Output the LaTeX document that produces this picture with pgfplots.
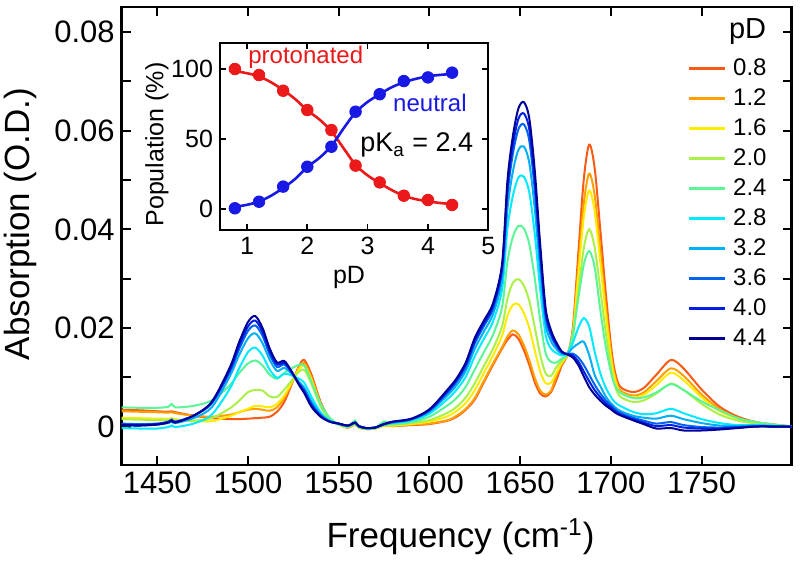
\documentclass[border=0pt]{standalone}
\usepackage{pgfplots}
\pgfplotsset{compat=1.18}
\usepackage{pgfplotstable}
\usepackage{fontspec}
\setmainfont{Liberation Sans}

\definecolor{c08}{RGB}{250,90,20}
\definecolor{c12}{RGB}{255,160,0}
\definecolor{c16}{RGB}{255,235,0}
\definecolor{c20}{RGB}{170,240,70}
\definecolor{c24}{RGB}{90,245,150}
\definecolor{c28}{RGB}{0,235,255}
\definecolor{c32}{RGB}{0,175,245}
\definecolor{c36}{RGB}{0,100,240}
\definecolor{c40}{RGB}{0,30,230}
\definecolor{c44}{RGB}{0,0,150}
\definecolor{prot}{RGB}{235,25,25}
\definecolor{neut}{RGB}{25,25,230}

\pgfplotstableread{
f s08 s12 s16 s20 s24 s28 s32 s36 s40 s44
1430 0.0034 0.0031 0.0018 0.0015 0.0039 -0.0003 0.0003 0.0006 0.0004 0.0003
1440 0.0033 0.0030 0.0017 0.0014 0.0038 -0.0004 0.0002 0.0005 0.0003 0.0002
1450 0.0031 0.0029 0.0016 0.0013 0.0038 -0.0004 0.0004 0.0006 0.0005 0.0004
1456 0.0030 0.0028 0.0016 0.0013 0.0040 -0.0001 0.0007 0.0010 0.0009 0.0008
1458 0.0031 0.0029 0.0017 0.0015 0.0046 0.0002 0.0010 0.0014 0.0013 0.0012
1460 0.0029 0.0027 0.0015 0.0013 0.0039 -0.0001 0.0007 0.0010 0.0009 0.0008
1470 0.0022 0.0022 0.0011 0.0012 0.0042 0.0006 0.0017 0.0022 0.0022 0.0022
1480 0.0017 0.0020 0.0011 0.0017 0.0053 0.0024 0.0039 0.0047 0.0049 0.0050
1490 0.0015 0.0024 0.0021 0.0037 0.0084 0.0077 0.0102 0.0111 0.0115 0.0120
1495 0.0015 0.0029 0.0029 0.0052 0.0108 0.0117 0.0144 0.0156 0.0163 0.0170
1500 0.0016 0.0034 0.0036 0.0070 0.0128 0.0151 0.0179 0.0194 0.0203 0.0212
1504 0.0017 0.0036 0.0042 0.0074 0.0134 0.0160 0.0189 0.0205 0.0215 0.0224
1508 0.0018 0.0034 0.0041 0.0073 0.0124 0.0144 0.0169 0.0184 0.0192 0.0200
1512 0.0020 0.0032 0.0039 0.0061 0.0105 0.0115 0.0135 0.0146 0.0152 0.0158
1516 0.0030 0.0039 0.0046 0.0060 0.0097 0.0099 0.0113 0.0121 0.0126 0.0130
1520 0.0050 0.0058 0.0063 0.0075 0.0109 0.0107 0.0119 0.0126 0.0129 0.0133
1524 0.0085 0.0087 0.0089 0.0093 0.0118 0.0104 0.0107 0.0110 0.0111 0.0112
1528 0.0122 0.0119 0.0116 0.0111 0.0125 0.0097 0.0091 0.0088 0.0087 0.0085
1531 0.0135 0.0129 0.0124 0.0115 0.0124 0.0089 0.0079 0.0074 0.0071 0.0068
1535 0.0105 0.0099 0.0095 0.0086 0.0090 0.0060 0.0051 0.0046 0.0043 0.0040
1540 0.0050 0.0047 0.0045 0.0041 0.0046 0.0029 0.0025 0.0023 0.0021 0.0020
1545 0.0015 0.0015 0.0014 0.0014 0.0018 0.0012 0.0011 0.0010 0.0010 0.0010
1550 0.0004 0.0004 0.0004 0.0005 0.0005 0.0005 0.0006 0.0006 0.0006 0.0006
1555 -0.0002 -0.0002 -0.0001 -0.0001 0.0000 0.0001 0.0001 0.0002 0.0002 0.0002
1559 0.0004 0.0004 0.0005 0.0005 0.0012 0.0007 0.0007 0.0008 0.0008 0.0008
1561 -0.0002 -0.0002 -0.0002 -0.0001 -0.0001 0.0000 0.0000 0.0001 0.0001 0.0001
1565 -0.0005 -0.0005 -0.0005 -0.0004 -0.0004 -0.0004 -0.0003 -0.0003 -0.0003 -0.0003
1570 -0.0004 -0.0004 -0.0004 -0.0003 -0.0003 -0.0003 -0.0002 -0.0002 -0.0002 -0.0002
1575 0.0002 0.0002 0.0002 0.0003 0.0010 0.0004 0.0004 0.0005 0.0005 0.0005
1580 0.0001 0.0001 0.0002 0.0004 0.0005 0.0007 0.0008 0.0009 0.0010 0.0010
1590 0.0003 0.0004 0.0005 0.0007 0.0009 0.0012 0.0014 0.0015 0.0015 0.0016
1600 0.0005 0.0006 0.0010 0.0013 0.0020 0.0026 0.0030 0.0032 0.0034 0.0035
1610 0.0012 0.0013 0.0021 0.0028 0.0043 0.0056 0.0064 0.0069 0.0072 0.0075
1615 0.0020 0.0022 0.0032 0.0040 0.0058 0.0075 0.0084 0.0091 0.0095 0.0098
1620 0.0034 0.0036 0.0048 0.0059 0.0081 0.0101 0.0113 0.0121 0.0126 0.0130
1625 0.0055 0.0058 0.0074 0.0088 0.0116 0.0143 0.0158 0.0169 0.0174 0.0180
1630 0.0090 0.0093 0.0109 0.0123 0.0151 0.0178 0.0193 0.0204 0.0209 0.0215
1635 0.0125 0.0128 0.0144 0.0158 0.0186 0.0213 0.0228 0.0239 0.0244 0.0250
1640 0.0158 0.0161 0.0184 0.0203 0.0242 0.0278 0.0299 0.0315 0.0322 0.0330
1643 0.0176 0.0183 0.0225 0.0260 0.0335 0.0403 0.0442 0.0471 0.0485 0.0500
1646 0.0187 0.0195 0.0247 0.0292 0.0385 0.0469 0.0518 0.0554 0.0572 0.0590
1649 0.0178 0.0187 0.0248 0.0299 0.0407 0.0505 0.0561 0.0603 0.0624 0.0645
1652 0.0155 0.0165 0.0230 0.0286 0.0402 0.0507 0.0568 0.0613 0.0635 0.0658
1655 0.0125 0.0135 0.0200 0.0255 0.0370 0.0475 0.0535 0.0580 0.0603 0.0625
1658 0.0090 0.0099 0.0155 0.0202 0.0301 0.0391 0.0443 0.0481 0.0501 0.0520
1661 0.0067 0.0073 0.0112 0.0146 0.0216 0.0279 0.0316 0.0343 0.0356 0.0370
1664 0.0061 0.0065 0.0088 0.0108 0.0149 0.0186 0.0208 0.0224 0.0232 0.0240
1667 0.0070 0.0073 0.0089 0.0103 0.0131 0.0158 0.0173 0.0184 0.0189 0.0195
1670 0.0095 0.0104 0.0109 0.0121 0.0130 0.0149 0.0157 0.0163 0.0167 0.0170
1673 0.0125 0.0128 0.0130 0.0134 0.0138 0.0144 0.0147 0.0150 0.0151 0.0152
1676 0.0145 0.0145 0.0145 0.0145 0.0146 0.0148 0.0148 0.0147 0.0147 0.0146
1679 0.0200 0.0193 0.0189 0.0179 0.0187 0.0170 0.0160 0.0148 0.0144 0.0140
1682 0.0350 0.0323 0.0307 0.0271 0.0259 0.0200 0.0168 0.0140 0.0132 0.0125
1685 0.0500 0.0452 0.0424 0.0361 0.0328 0.0220 0.0172 0.0125 0.0112 0.0102
1688 0.0572 0.0513 0.0479 0.0400 0.0356 0.0203 0.0145 0.0105 0.0092 0.0080
1691 0.0525 0.0470 0.0438 0.0364 0.0324 0.0152 0.0105 0.0085 0.0074 0.0065
1694 0.0405 0.0363 0.0338 0.0282 0.0240 0.0110 0.0083 0.0068 0.0060 0.0053
1697 0.0277 0.0249 0.0233 0.0195 0.0165 0.0080 0.0062 0.0054 0.0048 0.0043
1700 0.0165 0.0149 0.0140 0.0120 0.0110 0.0060 0.0047 0.0043 0.0039 0.0035
1702 0.0115 0.0105 0.0099 0.0085 0.0085 0.0050 0.0040 0.0036 0.0032 0.0029
1705 0.0081 0.0074 0.0070 0.0061 0.0069 0.0042 0.0032 0.0028 0.0025 0.0023
1712 0.0070 0.0063 0.0059 0.0050 0.0058 0.0030 0.0022 0.0018 0.0015 0.0013
1718 0.0078 0.0069 0.0064 0.0053 0.0059 0.0025 0.0018 0.0012 0.0008 0.0005
1725 0.0105 0.0092 0.0084 0.0067 0.0069 0.0027 0.0016 0.0006 0.0001 -0.0004
1733 0.0135 0.0118 0.0109 0.0087 0.0086 0.0036 0.0022 0.0009 0.0003 -0.0003
1740 0.0118 0.0103 0.0094 0.0074 0.0074 0.0027 0.0015 0.0003 -0.0002 -0.0008
1750 0.0075 0.0065 0.0059 0.0046 0.0051 0.0015 0.0007 -0.0001 -0.0004 -0.0008
1760 0.0040 0.0035 0.0031 0.0024 0.0033 0.0007 0.0002 -0.0002 -0.0004 -0.0006
1770 0.0020 0.0017 0.0016 0.0012 0.0017 0.0003 0.0001 -0.0001 -0.0002 -0.0003
1780 0.0009 0.0008 0.0007 0.0006 0.0009 0.0003 0.0002 0.0001 0.0000 0.0000
1790 0.0004 0.0004 0.0003 0.0003 0.0004 0.0001 0.0001 0.0000 0.0000 0.0000
1800 0.0000 0.0000 0.0000 0.0000 0.0000 0.0000 0.0000 0.0000 0.0000 0.0000
}\spectra

\begin{document}
\begin{tikzpicture}
\path[use as bounding box] (-60.85pt,-49pt) rectangle (339.15pt,232.5pt);
\begin{axis}[
  scale only axis, width=335pt, height=229pt,
  at={(0pt,0pt)}, anchor=south west,
  xmin=1430.4, xmax=1799.6, ymin=-0.0078, ymax=0.0851,
  axis line style={line width=1.3pt},
  every tick/.style={black, line width=1pt},
  tick align=inside, major tick length=4.5pt,
  xtick={1450,1500,1550,1600,1650,1700,1750},
  ytick={0,0.01,0.02,0.03,0.04,0.05,0.06,0.07,0.08},
  yticklabels={0,,0.02,,0.04,,0.06,,0.08},
  scaled y ticks=false,
  /pgf/number format/assume math mode=true,
  /pgf/number format/1000 sep={},
  tick label style={font=\fontsize{15.5}{18}\selectfont},
  xlabel={Frequency (cm\textsuperscript{-1})},
  ylabel={Absorption (O.D.)},
  label style={font=\fontsize{17.5}{20}\selectfont},
  xlabel style={at={(axis description cs:0.5057,-0.157)}, anchor=center},
  ylabel style={at={(axis description cs:-0.1518,0.526)}, anchor=center},
  legend style={draw=none, fill=none, at={(axis description cs:0.8437,0.8908)}, anchor=north west,
    inner sep=0pt, row sep=4pt, font=\fontsize{12}{12}\selectfont,
    nodes={inner sep=0pt, text height=9pt, text depth=2pt},
    /tikz/every odd column/.append style={column sep=3.5pt}},
  legend cell align=left,
  legend image code/.code={\draw[#1, line width=1.4pt] (0pt,0pt) -- (18pt,0pt);},
  every axis plot/.append style={line width=1pt, smooth, tension=0.5},
]
\addplot[c08] table[x=f,y=s08]{\spectra};
\addplot[c12] table[x=f,y=s12]{\spectra};
\addplot[c16] table[x=f,y=s16]{\spectra};
\addplot[c20] table[x=f,y=s20]{\spectra};
\addplot[c24] table[x=f,y=s24]{\spectra};
\addplot[c28] table[x=f,y=s28]{\spectra};
\addplot[c32] table[x=f,y=s32]{\spectra};
\addplot[c36] table[x=f,y=s36]{\spectra};
\addplot[c40] table[x=f,y=s40]{\spectra};
\addplot[c44] table[x=f,y=s44]{\spectra};
\legend{0.8,1.2,1.6,2.0,2.4,2.8,3.2,3.6,4.0,4.4}
\node[anchor=base west, inner sep=0pt, font=\fontsize{14.5}{15}\selectfont] at (axis description cs:0.906,0.9317) {pD};
\end{axis}

\begin{axis}[
  at={(49.15pt,117.5pt)}, anchor=south west,
  scale only axis, width=134.15pt, height=93.65pt,
  xmin=0.553, xmax=5, ymin=-15, ymax=118.8,
  xtick={1,2,3,4,5}, ytick={0,50,100},
  tick align=inside, major tick length=3pt,
  axis line style={line width=1pt},
  every tick/.style={black, line width=0.8pt},
  axis background/.style={fill=white},
  /pgf/number format/assume math mode=true,
  tick label style={font=\fontsize{12.5}{14}\selectfont},
  xlabel={pD}, ylabel={Population (\%)},
  label style={font=\fontsize{12.5}{14}\selectfont},
  xlabel style={at={(axis description cs:0.481,-0.251)}, anchor=center},
  ylabel style={at={(axis description cs:-0.235,0.4565)}, anchor=center},
]
\addplot[prot, line width=1.3pt, smooth] coordinates {
(0.8,98.5)(1.0,97.0)(1.2,94.7)(1.4,90.5)(1.6,85.0)(1.8,78.5)(2.0,70.5)(2.2,64.0)(2.4,55.5)(2.6,43.5)(2.8,31.5)(3.0,24.0)(3.2,18.5)(3.4,13.5)(3.6,9.5)(3.8,7.0)(4.0,5.5)(4.2,4.3)(4.4,3.5)};
\addplot[neut, line width=1.3pt, smooth] coordinates {
(0.8,1.5)(1.0,3.0)(1.2,5.3)(1.4,9.5)(1.6,15.0)(1.8,21.5)(2.0,30.0)(2.2,36.5)(2.4,45.0)(2.6,57.5)(2.8,69.0)(3.0,76.5)(3.2,82.0)(3.4,87.0)(3.6,90.5)(3.8,93.0)(4.0,94.8)(4.2,95.8)(4.4,96.5)};
\addplot[prot, only marks, mark=*, mark size=2.9pt] coordinates {
(0.8,100)(1.2,95.7)(1.6,84.5)(2.0,70.7)(2.4,56.4)(2.8,31)(3.2,19)(3.6,9.5)(4.0,6.4)(4.4,2.9)};
\addplot[neut, only marks, mark=*, mark size=2.9pt] coordinates {
(0.8,0.5)(1.2,5.2)(1.6,16)(2.0,30.2)(2.4,44.5)(2.8,69.5)(3.2,82)(3.6,91.4)(4.0,94)(4.4,97.4)};
\node[text=prot, anchor=base west, inner sep=0pt, font=\fontsize{12}{14}\selectfont] at (axis cs:1.017,104.1) {protonated};
\node[text=neut, anchor=base east, inner sep=0pt, font=\fontsize{12}{14}\selectfont] at (axis cs:4.647,69.5) {neutral};
\node[anchor=base west, inner sep=0pt, font=\fontsize{13.5}{15}\selectfont] at (axis cs:2.873,40.9) {pK\textsubscript{a} = 2.4};
\end{axis}
\end{tikzpicture}
\end{document}
